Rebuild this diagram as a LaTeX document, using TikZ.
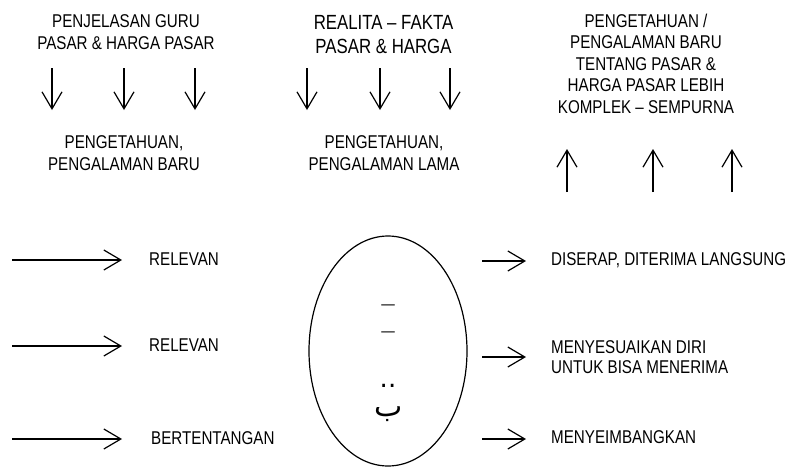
\documentclass[tikz,border=0pt]{standalone}
\usepackage{fontspec}
\setmainfont{Liberation Sans}[FakeStretch=0.82]
\newfontfamily\arabicfont[Script=Arabic]{DejaVu Sans}
\TeXXeTstate=1
\usetikzlibrary{arrows.meta,shapes.geometric}
\begin{document}
\begin{tikzpicture}[x=1pt,y=-1pt,
  lbl/.style={font=\fontsize{18.5}{21.5}\selectfont, inner sep=0pt, align=center, anchor=base},
  big/.style={lbl, font=\fontsize{20.5}{24}\selectfont},
  lbll/.style={lbl, anchor=base west, align=left},
  glyph/.style={font=\arabicfont\fontsize{26}{26}\selectfont, inner sep=0pt, anchor=base},
  arr/.style={line width=1.2pt, -{Straight Barb[length=17pt,width=20pt,line width=1.2pt]}},
]
\useasboundingbox (0,0) rectangle (793,467);

% headings (anchored at the baseline of the last line)
\node[lbl] (h1) at (126,49.3) {PENJELASAN GURU\\PASAR \& HARGA PASAR};
\node[big] (h2) at (383.5,53) {REALITA – FAKTA\\PASAR \& HARGA};
\node[lbl] (h3) at (646,113) {PENGETAHUAN /\\PENGALAMAN BARU\\TENTANG PASAR \&\\HARGA PASAR LEBIH\\KOMPLEK – SEMPURNA};

% second-row labels
\node[lbl] (b1) at (124,170) {PENGETAHUAN,\\PENGALAMAN BARU};
\node[lbl] (b2) at (384,170) {PENGETAHUAN,\\PENGALAMAN LAMA};

% down arrows (left)
\foreach \x [count=\i] in {52,124,195}{
  \coordinate (da\i) at (\x,68); \coordinate (db\i) at (\x,110);
  \draw[arr] (da\i) -- (db\i);
}
% down arrows (middle)
\foreach \x [count=\i] in {307,380,450}{
  \coordinate (ma\i) at (\x,68); \coordinate (mb\i) at (\x,110);
  \draw[arr] (ma\i) -- (mb\i);
}
% up arrows (right)
\foreach \x [count=\i] in {567,653,732}{
  \coordinate (ua\i) at (\x,192); \coordinate (ub\i) at (\x,149);
  \draw[arr] (ua\i) -- (ub\i);
}

% left arrows and labels
\foreach \y [count=\i] in {260,346,439}{
  \coordinate (la\i) at (12,\y); \coordinate (lb\i) at (122,\y);
  \draw[arr] (la\i) -- (lb\i);
}
\node[lbll] (l1) at (149,265.7) {RELEVAN};
\node[lbll] (l2) at (149,351.7) {RELEVAN};
\node[lbll] (l3) at (151,444) {BERTENTANGAN};

% ellipse
\node[draw, line width=1.2pt, ellipse, minimum width=158pt, minimum height=230pt, inner sep=0pt] (oval) at (388,351) {};
\node[glyph, font=\arabicfont\fontsize{15}{15}\selectfont] (g1) at (388,309) {—};
\node[glyph, font=\arabicfont\fontsize{15}{15}\selectfont] (g2) at (388,336) {—};
\node[glyph] (g3) at (388,387.6) {..};
\node[glyph, font=\arabicfont\fontsize{30}{30}\selectfont] (g4) at (389,416.5) {\beginR ب\endR};

% right arrows and labels
\foreach \y [count=\i] in {261,357,439}{
  \coordinate (ra\i) at (482,\y); \coordinate (rb\i) at (526,\y);
  \draw[arr] (ra\i) -- (rb\i);
}
\node[lbll] (r1) at (551,265.7) {DISERAP, DITERIMA LANGSUNG};
\node[lbll, font=\fontsize{18.5}{20}\selectfont] (r2) at (551,373) {MENYESUAIKAN DIRI\\UNTUK BISA MENERIMA};
\node[lbll] (r3) at (551,443.3) {MENYEIMBANGKAN};
\end{tikzpicture}
\end{document}
